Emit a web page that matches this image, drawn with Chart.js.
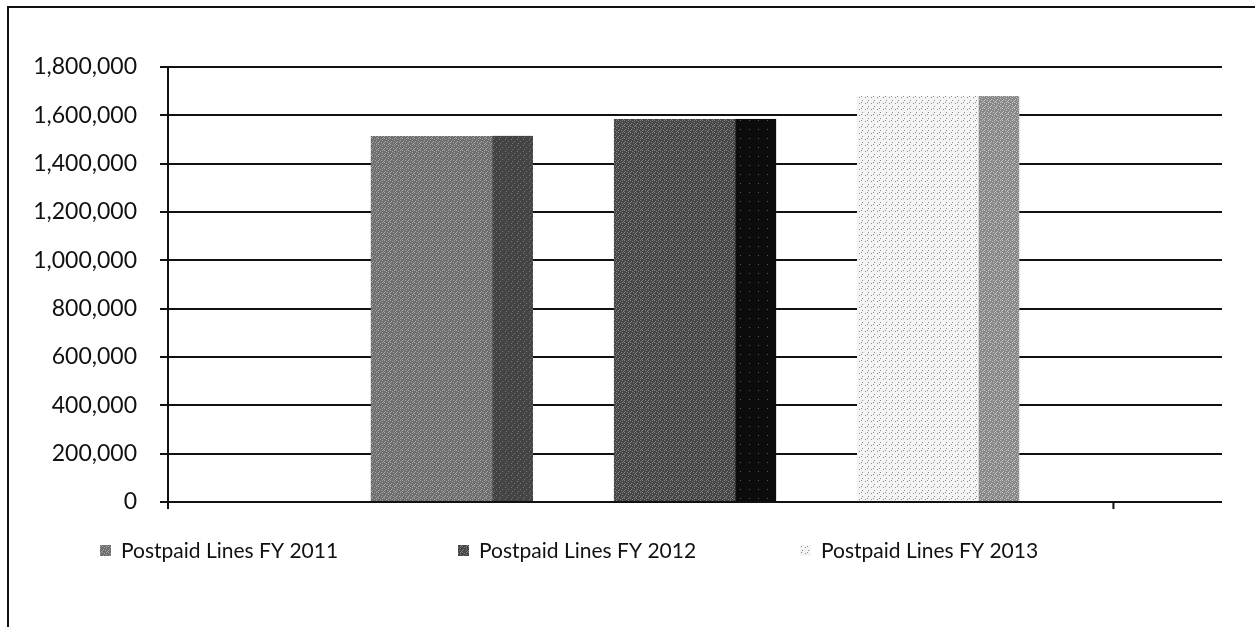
<!DOCTYPE html>
<html>
<head>
<meta charset="utf-8">
<script src="https://cdn.jsdelivr.net/npm/chart.js@4"></script>
<style>
  html, body { margin: 0; padding: 0; background: #fff; }
  #wrap { position: relative; width: 1255px; height: 627px; }
  #frame { position: absolute; left: 7px; top: 6px; right: 0; bottom: -5px;
           border-left: 2px solid #111; border-top: 2px solid #111; }
  canvas { position: absolute; left: 0; top: 0; }
</style>
</head>
<body>
<div id="wrap">
  <div id="frame"></div>
  <canvas id="chart" width="1255" height="627"></canvas>
</div>
<script>
const categories = ['Postpaid Lines'];
const seriesNames = ['Postpaid Lines FY 2011', 'Postpaid Lines FY 2012', 'Postpaid Lines FY 2013'];
const fy2011 = [1515000];
const fy2012 = [1585000];
const fy2013 = [1680000];
const yMax = 1800000;
const yStep = 200000;

// small deterministic textures to mimic the scanned fills
function makePattern(base, dots, dotColor, size) {
    const c = document.createElement('canvas');
    c.width = size; c.height = size;
    const g = c.getContext('2d');
    g.fillStyle = base;
    g.fillRect(0, 0, size, size);
    g.fillStyle = dotColor;
    dots.forEach(d => g.fillRect(d[0], d[1], 1, 1));
    return g.createPattern(c, 'repeat');
}

const diag = [[0, 0], [2, 1], [4, 2], [1, 3], [3, 4], [5, 5], [0, 4], [4, 0]];
const sparse = [[1, 1], [4, 3], [2, 5]];

const fronts = [
    makePattern('#6e6e6e', diag, '#a4a4a4', 6),
    makePattern('#464646', diag, '#838383', 6),
    makePattern('#f4f4f4', [[1, 1], [4, 4], [3, 0]], '#8c8c8c', 6)
];
const sides = [
    makePattern('#444444', sparse, '#777777', 6),
    makePattern('#0c0c0c', [[2, 3]], '#5a5a5a', 9),
    makePattern('#888888', diag, '#c4c4c4', 6)
];

// draws the darker right-hand "depth" face on each bar
const sideFaces = {
    id: 'sideFaces',
    afterDatasetsDraw(chart) {
        const ctx = chart.ctx;
        chart.data.datasets.forEach((ds, i) => {
            chart.getDatasetMeta(i).data.forEach(bar => {
                const left = bar.x - bar.width / 2;
                const sideW = bar.width * 0.25;
                ctx.save();
                ctx.fillStyle = sides[i];
                ctx.fillRect(left + bar.width - sideW, bar.y, sideW, bar.base - bar.y);
                ctx.restore();
            });
        });
    }
};

// legend drawn under the plot, Excel style, plus the category tick marks
const legendRow = {
    id: 'legendRow',
    afterDraw(chart) {
        const ctx = chart.ctx;
        const area = chart.chartArea;
        ctx.save();
        ctx.strokeStyle = '#111';
        ctx.lineWidth = 2;
        ctx.beginPath();
        ctx.moveTo(area.left, area.bottom);
        ctx.lineTo(area.left, area.bottom + 7);
        const farTick = area.left + (area.right - area.left) * 0.897;
        ctx.moveTo(farTick, area.bottom);
        ctx.lineTo(farTick, area.bottom + 7);
        ctx.stroke();

        const xs = [100, 458, 800];
        const y = 551;
        ctx.font = '21px Lato';
        ctx.textBaseline = 'middle';
        seriesNames.forEach((name, i) => {
            ctx.fillStyle = fronts[i];
            ctx.fillRect(xs[i], y - 6, 11, 11);
            ctx.fillStyle = '#111';
            ctx.fillText(name, xs[i] + 21, y);
        });
        ctx.restore();
    }
};

const ctx = document.getElementById('chart').getContext('2d');
new Chart(ctx, {
    type: 'bar',
    data: {
        labels: categories,
        datasets: [
            { label: seriesNames[0], data: fy2011, backgroundColor: fronts[0] },
            { label: seriesNames[1], data: fy2012, backgroundColor: fronts[1] },
            { label: seriesNames[2], data: fy2013, backgroundColor: fronts[2] }
        ]
    },
    options: {
        responsive: false,
        animation: false,
        categoryPercentage: 0.692,
        barPercentage: 0.667,
        layout: { padding: { left: 10, top: 67, right: 33, bottom: 125 } },
        plugins: {
            legend: { display: false },
            tooltip: { enabled: false }
        },
        scales: {
            x: { display: false },
            y: {
                min: 0,
                max: yMax,
                ticks: {
                    stepSize: yStep,
                    padding: 23,
                    color: '#111',
                    font: { family: 'Lato', size: 23 },
                    callback: v => v.toLocaleString('en-US')
                },
                grid: { color: '#111', lineWidth: 2, tickLength: 8 },
                border: { color: '#111', width: 2 },
                afterFit: scale => { scale.width = 158; }
            }
        }
    },
    plugins: [sideFaces, legendRow]
});
</script>
</body>
</html>
